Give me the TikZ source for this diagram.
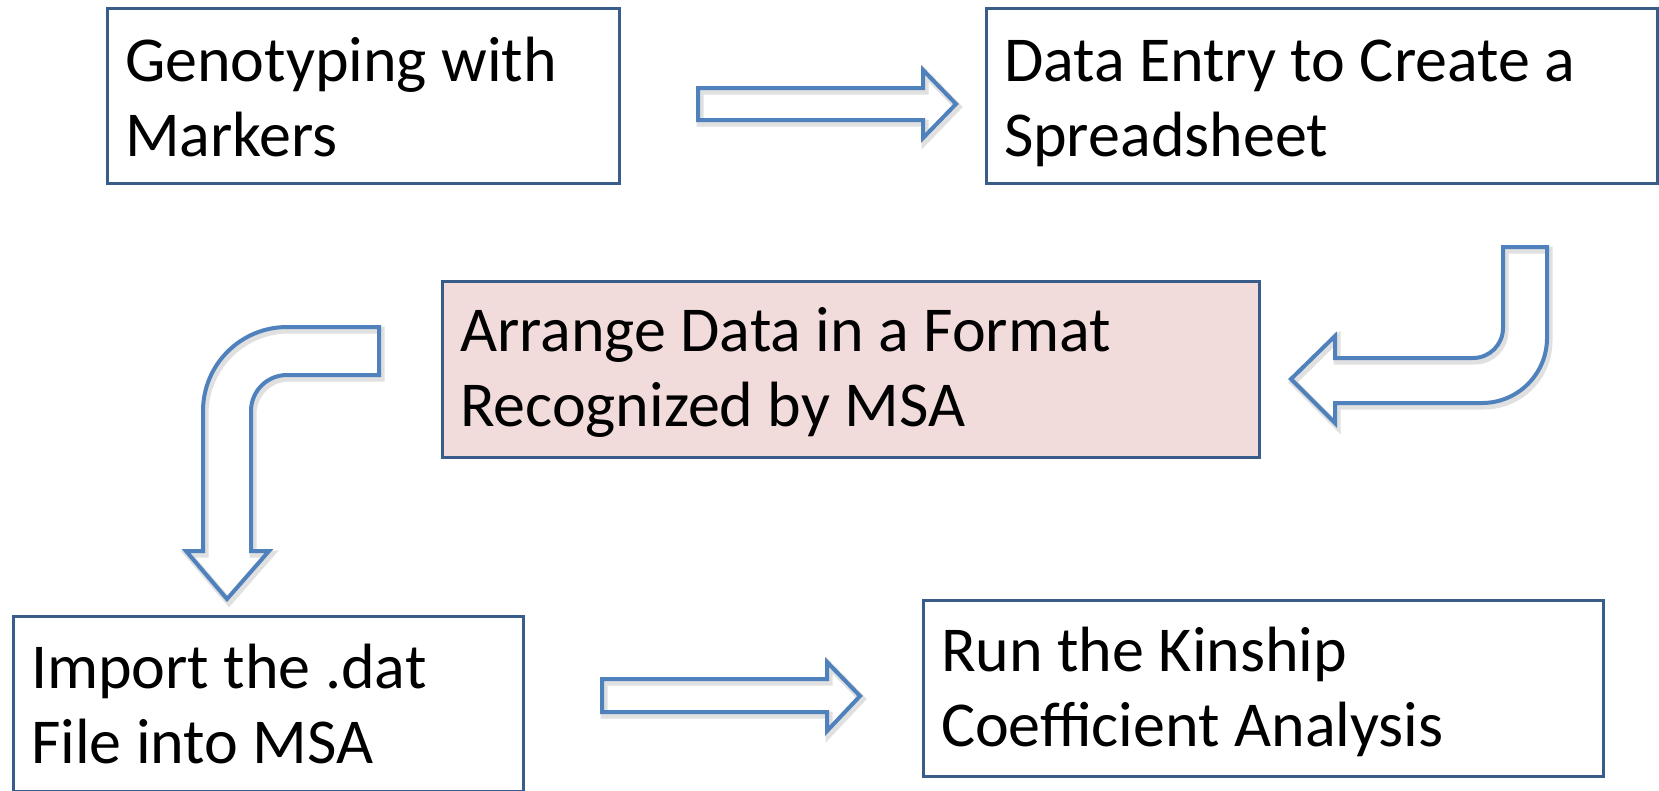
\documentclass[tikz,border=0pt]{standalone}
\usepackage{fontspec}
\setmainfont{Carlito}
\usepackage{tikz}
\usetikzlibrary{positioning,calc}
\definecolor{kinNavy}{RGB}{56,93,138}
\definecolor{kinBlue}{RGB}{79,129,189}
\definecolor{kinPink}{RGB}{242,220,219}

\begin{document}
\begin{tikzpicture}[
    x=1pt, y=-1pt,
    box/.style={rectangle, draw=kinNavy, line width=3pt, anchor=north west, outer sep=0pt,
        inner xsep=18pt, inner ysep=0pt, align=flush left, fill=white,
        font=\fontsize{64}{75}\selectfont},
    blockarrow/.style={draw=kinBlue, line width=4pt, line join=miter, fill=none,
        preaction={draw=black, opacity=.12, line width=7pt, transform canvas={shift={(2pt,-3pt)}}}}
]
    \useasboundingbox (0,0) rectangle (1659,790);

    % the five steps
    \node[box, text width=476pt, text height=73pt, text depth=102pt] (geno) at (107,8) {Genotyping with\\Markers};
    \node[box, text width=635pt, text height=73pt, text depth=102pt] (entry) at (986,8) {Data Entry to Create a\\Spreadsheet};
    \node[box, fill=kinPink, text width=781pt, text height=70pt, text depth=106pt] (arrange) at (442,281) {Arrange Data in a Format\\Recognized by MSA};
    \node[box, text width=474pt, text height=72pt, text depth=103pt] (import) at (13,616) {Import the .dat\\File into MSA};
    \node[box, text width=644pt, text height=71pt, text depth=105pt] (kinship) at (923,600) {Run the Kinship\\Coefficient Analysis};

    % block arrows
    \draw[blockarrow] (698,88) -- (923,88) -- (923,70) -- (956,104) -- (923,138) -- (923,120) -- (698,120) -- cycle;
    \draw[blockarrow] (1503,247) -- (1547,247) -- (1547,338) arc[start angle=0, end angle=90, radius=65]
        -- (1335,403) -- (1335,423) -- (1291,379) -- (1335,336) -- (1335,358) -- (1473,358)
        arc[start angle=90, end angle=0, radius=30] -- cycle;
    \draw[blockarrow] (379,327) -- (287,327) arc[start angle=270, end angle=180, radius=84]
        -- (203,551) -- (186,551) -- (227,599) -- (269,551) -- (251,551) -- (251,411)
        arc[start angle=180, end angle=270, radius=36] -- (379,375) -- cycle;
    \draw[blockarrow] (602,679) -- (827,679) -- (827,662) -- (860,696) -- (827,731) -- (827,712) -- (602,712) -- cycle;
\end{tikzpicture}
\end{document}
